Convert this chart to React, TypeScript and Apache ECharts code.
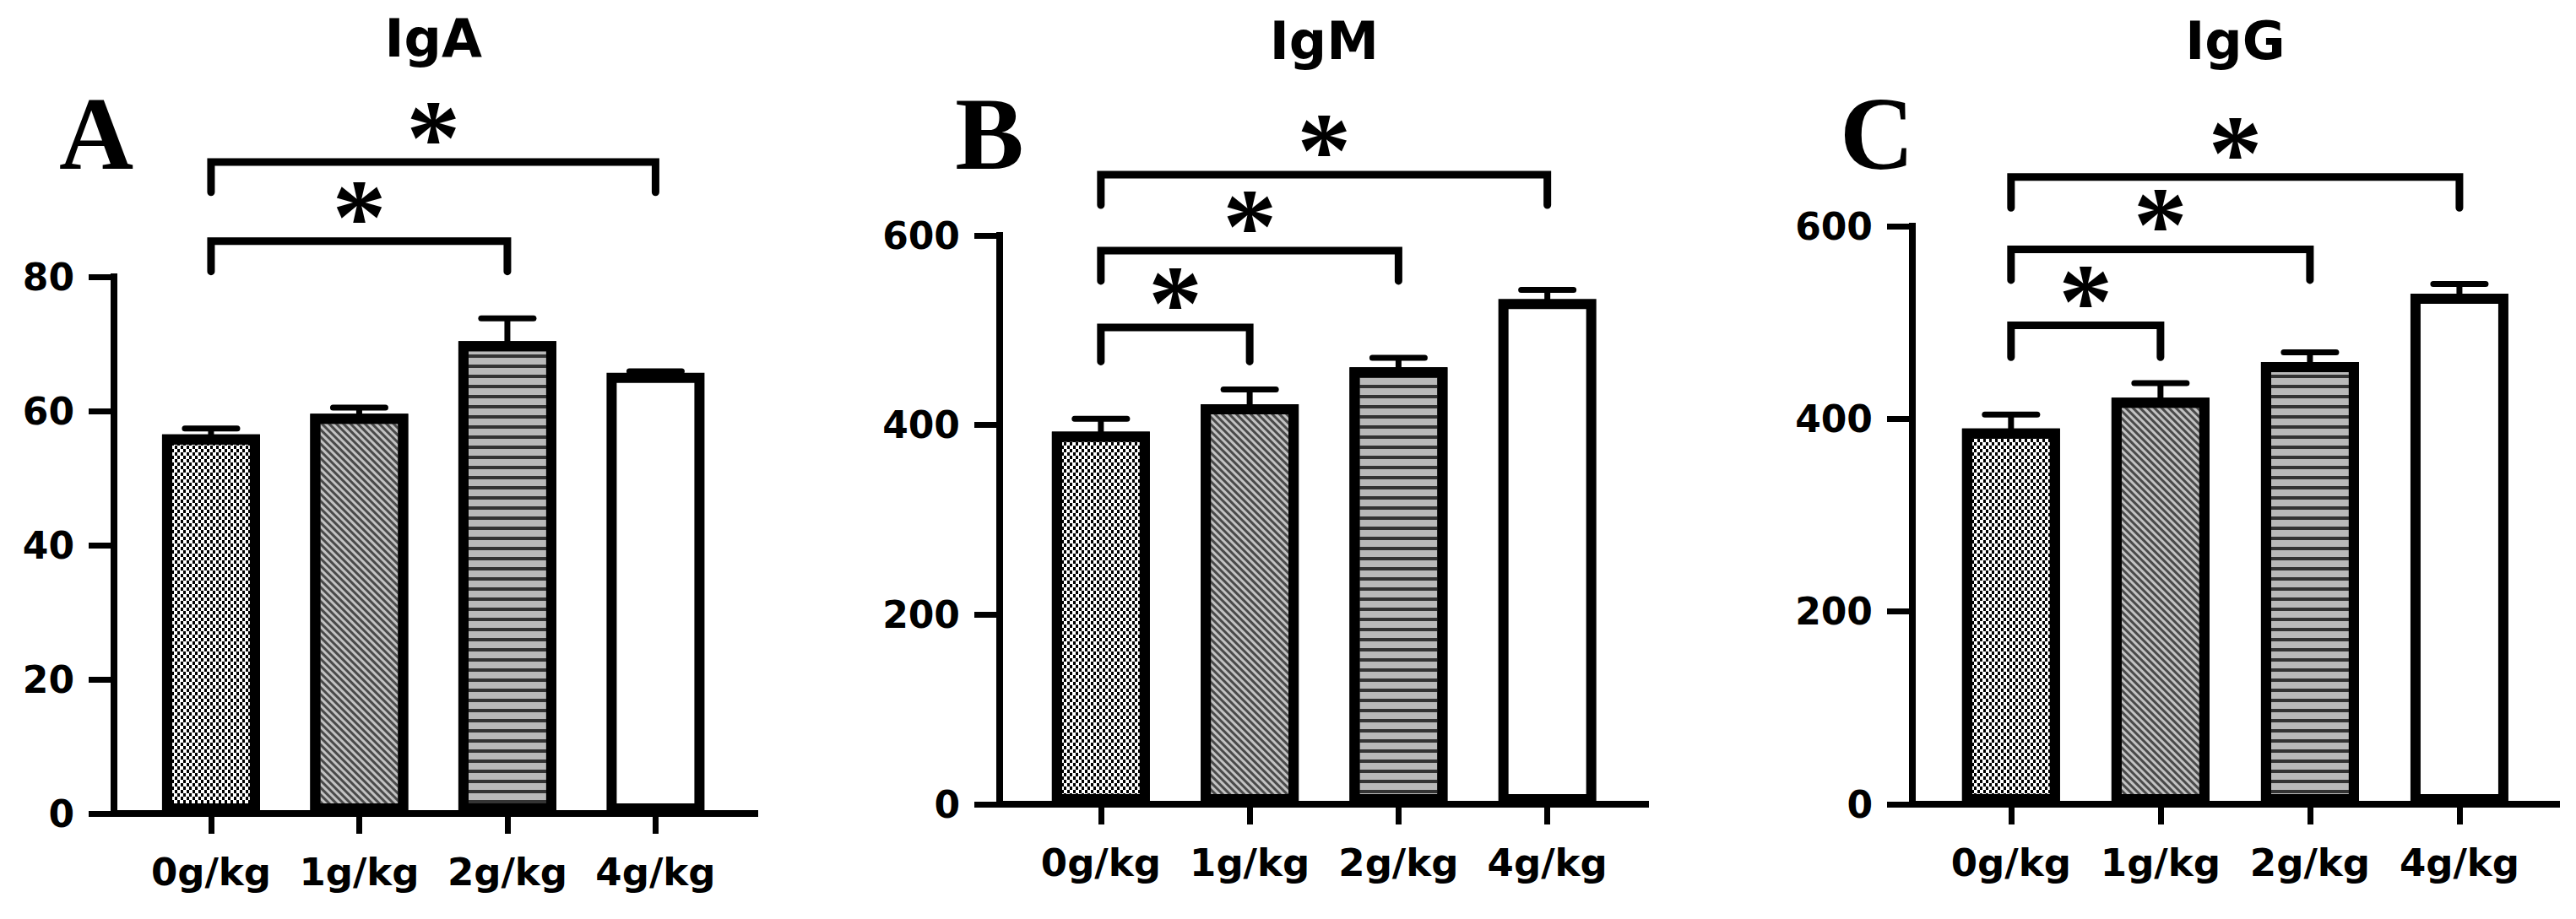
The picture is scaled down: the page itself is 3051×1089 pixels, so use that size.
import React, { useEffect, useRef } from 'react';
import * as echarts from 'echarts';

// ---------- data ----------
const categories = ['0g/kg', '1g/kg', '2g/kg', '4g/kg'];
const categoryIndex = [0, 1, 2, 3];

const titles = ['IgA', 'IgM', 'IgG'];
const panelLetters = ['A', 'B', 'C'];

const igaMean = [56.5, 59.6, 70.4, 65.7];
const igaErr = [0.9, 0.9, 3.4, 0.2];
const igmMean = [393, 422, 461, 533];
const igmErr = [13.5, 15.5, 10, 9.5];
const iggMean = [390, 422, 459, 530];
const iggErr = [14.5, 15, 10, 10];

const igaAxis = [0, 80, 20]; // min, max, interval
const igmAxis = [0, 600, 200];
const iggAxis = [0, 600, 200];

// significance brackets: [from, to, barLevel, endLevel]
const igaBrackets = [
  [0, 2, 85.3, 80.8],
  [0, 3, 97.1, 92.6],
];
const igmBrackets = [
  [0, 1, 503, 467],
  [0, 2, 584, 552],
  [0, 3, 664, 632],
];
const iggBrackets = [
  [0, 1, 497, 464],
  [0, 2, 576, 544],
  [0, 3, 651, 619],
];
const starLabel = '*';

// ---------- layout / style ----------
const panelBoxes = [
  { left: 135, top: 328, width: 759, height: 636, xMin: -0.655, xMax: 3.67, letterX: 114, titleY: 45 },
  { left: 1184, top: 279, width: 765, height: 674, xMin: -0.68, xMax: 3.66, letterX: 1172, titleY: 48 },
  { left: 2265, top: 268, width: 763, height: 685, xMin: -0.66, xMax: 3.65, letterX: 2223, titleY: 48 },
];

const SANS = '"DejaVu Sans", "Liberation Sans", Arial, sans-serif';
const SERIF = '"Liberation Serif", "Times New Roman", serif';

const barColors = ['#ffffff', '#c2c2c2', '#b9b9b9', '#ffffff'];
const barDecals: any[] = [
  {
    symbol: 'rect',
    symbolSize: 1,
    color: '#000000',
    backgroundColor: '#ffffff',
    dashArrayX: [
      [3, 4],
      [0, 4, 3, 0],
    ],
    dashArrayY: [4, 0],
  },
  {
    symbol: 'rect',
    symbolSize: 1,
    color: '#4a4a4a',
    backgroundColor: '#c2c2c2',
    dashArrayX: [1, 0],
    dashArrayY: [3, 3],
    rotation: Math.PI / 4,
  },
  {
    symbol: 'rect',
    symbolSize: 1,
    color: '#333333',
    backgroundColor: '#b9b9b9',
    dashArrayX: [1, 0],
    dashArrayY: [4, 8],
  },
  null,
];

function buildOption() {
  const means = [igaMean, igmMean, iggMean];
  const errs = [igaErr, igmErr, iggErr];
  const axes = [igaAxis, igmAxis, iggAxis];
  const brackets = [igaBrackets, igmBrackets, iggBrackets];

  const grid: any[] = [];
  const xAxis: any[] = [];
  const yAxis: any[] = [];
  const series: any[] = [];
  const graphic: any[] = [];

  panelBoxes.forEach((b, p) => {
    grid.push({ left: b.left, top: b.top, width: b.width, height: b.height, containLabel: false });
    xAxis.push({
      type: 'value',
      gridIndex: p,
      min: b.xMin,
      max: b.xMax,
      splitLine: { show: false },
      axisLine: { show: true, onZero: false, lineStyle: { color: '#000', width: 8, cap: 'square' } },
      axisTick: {
        show: true,
        customValues: categoryIndex,
        length: 24,
        lineStyle: { color: '#000', width: 7 },
      },
      axisLabel: {
        show: true,
        customValues: categoryIndex,
        formatter: (v: number) => categories[Math.round(v)] ?? '',
        margin: 47,
        color: '#000',
        fontFamily: SANS,
        fontWeight: 'bold',
        fontSize: 45,
      },
    });
    yAxis.push({
      type: 'value',
      gridIndex: p,
      min: axes[p][0],
      max: axes[p][1],
      interval: axes[p][2],
      splitLine: { show: false },
      axisLine: { show: true, onZero: false, lineStyle: { color: '#000', width: 8, cap: 'square' } },
      axisTick: { show: true, length: 30, lineStyle: { color: '#000', width: 7 } },
      axisLabel: {
        margin: 47,
        color: '#000',
        fontFamily: SANS,
        fontWeight: 'bold',
        fontSize: 44,
      },
    });

    // bars
    series.push({
      type: 'bar',
      xAxisIndex: p,
      yAxisIndex: p,
      barWidth: 116,
      data: means[p].map((v, i) => ({
        value: [categoryIndex[i], v],
        itemStyle: {
          color: barColors[i],
          borderColor: '#000',
          borderWidth: 12,
          decal: barDecals[i] || undefined,
        },
      })),
    });

    // error bars (upper only)
    series.push({
      type: 'custom',
      xAxisIndex: p,
      yAxisIndex: p,
      clip: false,
      z: 5,
      encode: { x: 0, y: [1, 2] },
      data: means[p].map((v, i) => [categoryIndex[i], v, v + errs[p][i]]),
      renderItem: (params: any, api: any) => {
        const x = api.value(0);
        const lo = api.coord([x, api.value(1)]);
        const hi = api.coord([x, api.value(2)]);
        return {
          type: 'group',
          children: [
            {
              type: 'line',
              shape: { x1: lo[0], y1: lo[1] + 4, x2: hi[0], y2: hi[1] },
              style: { stroke: '#000', lineWidth: 7 },
            },
            {
              type: 'line',
              shape: { x1: hi[0] - 31, y1: hi[1], x2: hi[0] + 31, y2: hi[1] },
              style: { stroke: '#000', lineWidth: 7, lineCap: 'round' },
            },
          ],
        };
      },
    });

    // significance brackets with stars
    series.push({
      type: 'custom',
      xAxisIndex: p,
      yAxisIndex: p,
      clip: false,
      z: 6,
      encode: { x: [0, 1], y: [2, 3] },
      data: brackets[p],
      renderItem: (params: any, api: any) => {
        const a = api.coord([api.value(0), api.value(2)]);
        const c = api.coord([api.value(1), api.value(2)]);
        const endA = api.coord([api.value(0), api.value(3)]);
        return {
          type: 'group',
          children: [
            {
              type: 'polyline',
              shape: {
                points: [
                  [a[0], endA[1]],
                  [a[0], a[1]],
                  [c[0], c[1]],
                  [c[0], endA[1]],
                ],
              },
              style: { stroke: '#000', lineWidth: 9, fill: null, lineCap: 'round', lineJoin: 'miter' },
            },
            {
              type: 'text',
              x: (a[0] + c[0]) / 2,
              y: a[1] - 29,
              style: {
                text: starLabel,
                fill: '#000',
                font: `bold 128px ${SERIF}`,
                align: 'center',
                verticalAlign: 'middle',
                textAlign: 'center',
                textVerticalAlign: 'middle',
              },
            },
          ],
        };
      },
    });

    // title
    graphic.push({
      type: 'text',
      x: b.left + ((0 - b.xMin) + (3 - b.xMin)) / 2 / (b.xMax - b.xMin) * b.width,
      y: b.titleY,
      style: {
        text: titles[p],
        fill: '#000',
        font: `bold 62px ${SANS}`,
        align: 'center',
        verticalAlign: 'middle',
        textAlign: 'center',
        textVerticalAlign: 'middle',
      },
    });
    // panel letter
    graphic.push({
      type: 'text',
      x: b.letterX,
      y: 158,
      style: {
        text: panelLetters[p],
        fill: '#000',
        font: `bold 122px ${SERIF}`,
        align: 'center',
        verticalAlign: 'middle',
        textAlign: 'center',
        textVerticalAlign: 'middle',
      },
    });
  });

  return {
    animation: false,
    backgroundColor: '#ffffff',
    grid,
    xAxis,
    yAxis,
    series,
    graphic,
  };
}

export default function App() {
  const ref = useRef<HTMLDivElement>(null);
  useEffect(() => {
    if (!ref.current) return;
    const chart = echarts.init(ref.current, undefined, { renderer: 'svg' });
    chart.setOption(buildOption() as any);
    return () => chart.dispose();
  }, []);
  return (
    <div
      ref={ref}
      style={{ position: 'fixed', left: 0, top: 0, width: 3051, height: 1089, background: '#fff' }}
    />
  );
}
